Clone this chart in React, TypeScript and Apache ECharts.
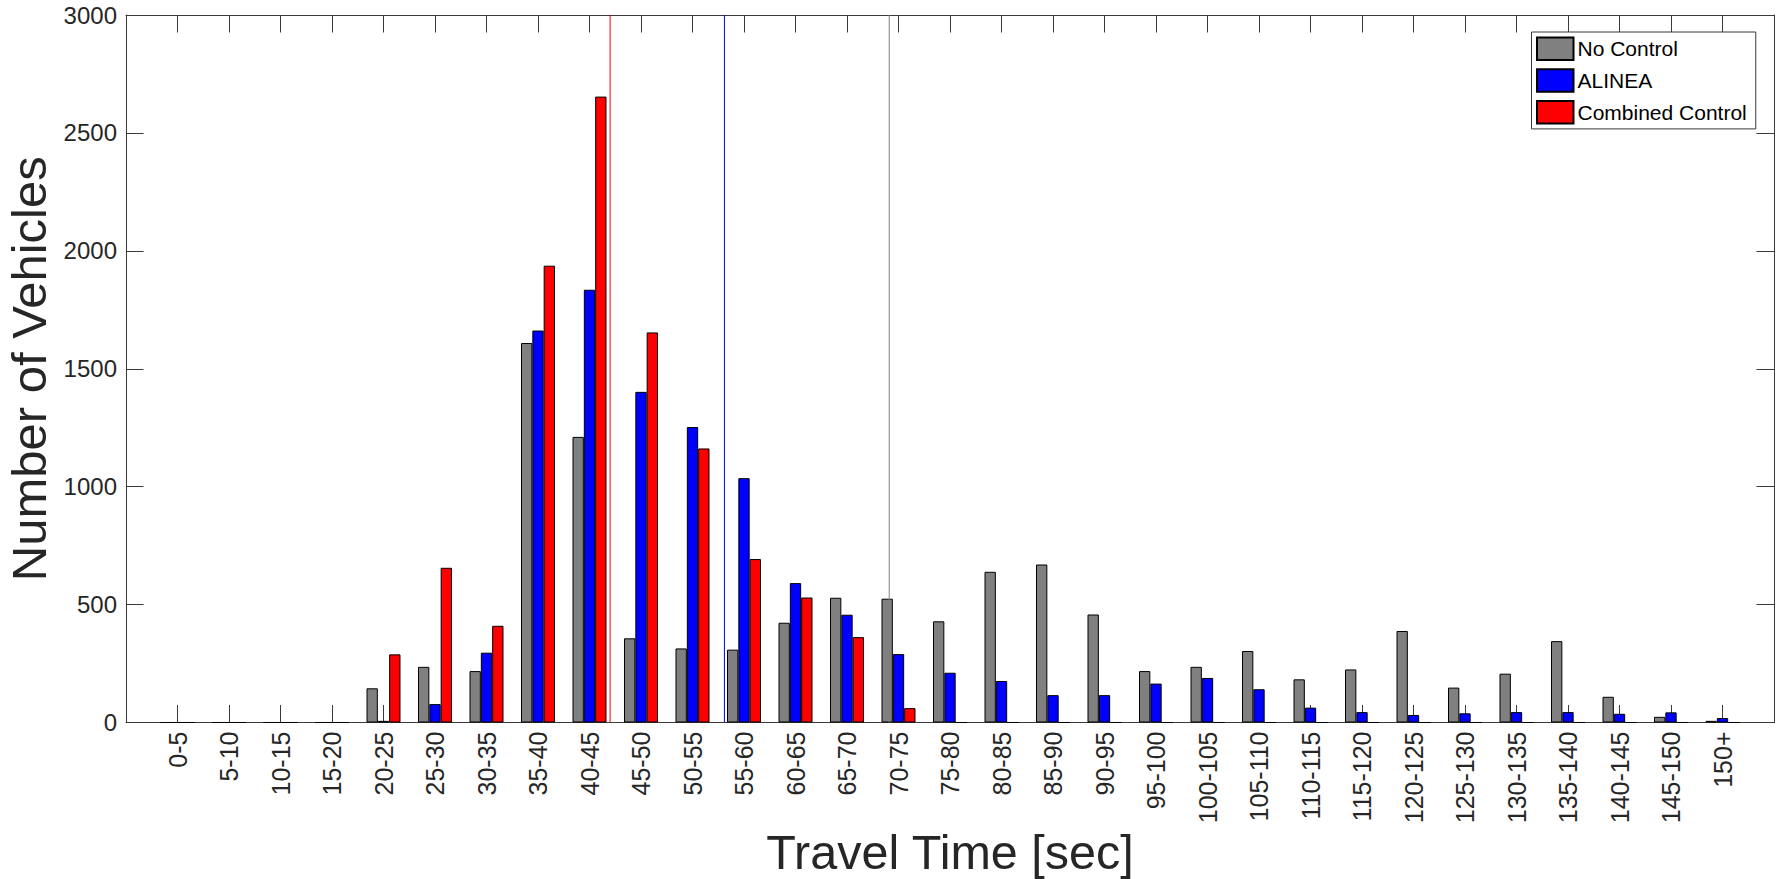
import React, { useEffect, useRef } from "react";
import * as echarts from "echarts";

// Travel-time bins (seconds)
const binLabels = [
  "0-5", "5-10", "10-15", "15-20", "20-25", "25-30", "30-35", "35-40",
  "40-45", "45-50", "50-55", "55-60", "60-65", "65-70", "70-75", "75-80",
  "80-85", "85-90", "90-95", "95-100", "100-105", "105-110", "110-115",
  "115-120", "120-125", "125-130", "130-135", "135-140", "140-145",
  "145-150", "150+",
];

// Vehicle counts per bin for each control strategy
const noControl = [
  0, 0, 0, 0, 145, 236, 218, 1609, 1211, 357, 314, 309, 423, 529, 525, 429,
  639, 670, 458, 218, 236, 303, 183, 225, 388, 148, 207, 345, 109, 24, 7,
];
const alinea = [
  0, 0, 0, 0, 7, 78, 296, 1662, 1835, 1402, 1253, 1036, 591, 457, 290, 211,
  176, 116, 116, 165, 189, 141, 63, 44, 32, 39, 44, 44, 37, 43, 19,
];
const combinedControl = [
  0, 0, 0, 0, 289, 656, 410, 1937, 2654, 1654, 1162, 693, 530, 362, 61, 0,
  0, 0, 0, 0, 0, 0, 0, 0, 0, 0, 0, 0, 0, 0, 0,
];

// Mean travel time of each strategy (seconds)
const meanNoControl = 71.6;
const meanAlinea = 55.6;
const meanCombined = 44.5;

const seriesNames = ["No Control", "ALINEA", "Combined Control"];
const seriesColors = ["#808080", "#0000ff", "#ff0000"];

const FONT = "'Liberation Sans', Arial, Helvetica, sans-serif";
const INK = "#262626";
const AXIS = "#3a3a3a";
const Y_MAX = 3000;

// bin i (0-based) sits at position i + 1 on the x scale; a time t maps to t / 5 + 0.5
const toPos = (t: number) => t / 5 + 0.5;

export default function App() {
  const ref = useRef<HTMLDivElement>(null);

  useEffect(() => {
    if (!ref.current) return;
    const chart = echarts.init(ref.current, undefined, { renderer: "svg" });

    const pairs = (vals: number[]) => vals.map((v, i) => [i + 1, v]);
    const means = [meanNoControl, meanAlinea, meanCombined];
    const values = [noControl, alinea, combinedControl];

    const tickStyle = {
      show: true,
      inside: true,
      length: 17.5,
      lineStyle: { color: AXIS, width: 1 },
    };
    const lineStyle = { show: true, onZero: false, lineStyle: { color: AXIS, width: 1 } };

    const barSeries = seriesNames.map((name, k) => ({
      name,
      type: "bar",
      xAxisIndex: 0,
      yAxisIndex: 0,
      data: pairs(values[k]),
      barWidth: 11.33,
      barGap: "0%",
      itemStyle: { color: seriesColors[k], borderColor: "#000000", borderWidth: 1 },
      emphasis: { disabled: true },
      z: 3,
    }));

    // vertical line at each strategy's mean travel time
    const meanSeries = seriesNames.map((name, k) => ({
      name: name + " mean",
      type: "line",
      xAxisIndex: 0,
      yAxisIndex: 0,
      data: [
        [toPos(means[k]), 0],
        [toPos(means[k]), Y_MAX],
      ],
      showSymbol: false,
      symbol: "none",
      silent: true,
      lineStyle: { color: seriesColors[k], width: 1 },
      emphasis: { disabled: true },
      z: 4,
    }));

    chart.setOption({
      animation: false,
      backgroundColor: "#ffffff",
      textStyle: { fontFamily: FONT },
      grid: {
        left: 126,
        right: 9,
        top: 15,
        bottom: 156.5,
        containLabel: false,
        outerBoundsMode: "none",
      },
      legend: {
        orient: "vertical",
        left: 1531.5,
        top: 32,
        data: seriesNames,
        icon: "rect",
        itemWidth: 36.5,
        itemHeight: 22.5,
        itemGap: 7.2,
        padding: [4.5, 9, 4.5, 4.5],
        backgroundColor: "#ffffff",
        borderColor: AXIS,
        borderWidth: 1,
        borderRadius: 0,
        textStyle: { fontFamily: FONT, fontSize: 21, color: "#000000", padding: [0, 0, 0, -1] },
      },
      xAxis: [
        {
          type: "value",
          position: "bottom",
          min: 0,
          max: 32,
          interval: 1,
          axisLine: lineStyle,
          axisTick: tickStyle,
          splitLine: { show: false },
          axisLabel: {
            rotate: 90,
            margin: 9,
            fontSize: 25,
            color: INK,
            fontFamily: FONT,
            formatter: (v: number) => binLabels[v - 1] ?? "",
          },
          name: "Travel Time [sec]",
          nameLocation: "middle",
          nameGap: 105,
          nameMoveOverlap: false,
          nameTextStyle: { fontSize: 48.5, color: INK, fontFamily: FONT },
        },
        {
          type: "value",
          position: "top",
          min: 0,
          max: 32,
          interval: 1,
          axisLine: lineStyle,
          axisTick: tickStyle,
          splitLine: { show: false },
          axisLabel: { show: false },
        },
      ],
      yAxis: [
        {
          type: "value",
          position: "left",
          min: 0,
          max: Y_MAX,
          interval: 500,
          axisLine: lineStyle,
          axisTick: tickStyle,
          splitLine: { show: false },
          axisLabel: {
            margin: 9,
            fontSize: 24,
            color: INK,
            fontFamily: FONT,
            formatter: (v: number) => String(v),
          },
          name: "Number of Vehicles",
          nameLocation: "middle",
          nameGap: 72.7,
          nameMoveOverlap: false,
          nameTextStyle: { fontSize: 49, color: INK, fontFamily: FONT },
        },
        {
          type: "value",
          position: "right",
          min: 0,
          max: Y_MAX,
          interval: 500,
          axisLine: lineStyle,
          axisTick: tickStyle,
          splitLine: { show: false },
          axisLabel: { show: false },
        },
      ],
      series: [...barSeries, ...meanSeries],
    });

    return () => chart.dispose();
  }, []);

  return (
    <div
      ref={ref}
      style={{ position: "fixed", left: 0, top: 0, width: 1783, height: 879, background: "#fff" }}
    />
  );
}
